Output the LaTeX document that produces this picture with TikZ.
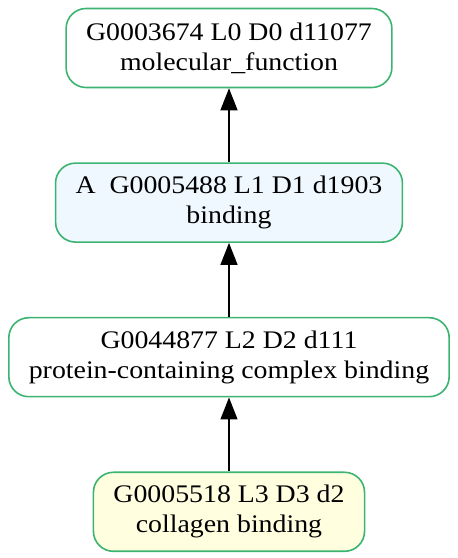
\documentclass[tikz,border=0pt]{standalone}
\usepackage{fontspec}
\setmainfont{Liberation Serif}[FakeStretch=1.1]
\usetikzlibrary{arrows.meta,positioning}
\definecolor{goborder}{HTML}{3CB371}
\definecolor{gublue}{HTML}{F0F8FF}
\definecolor{guyellow}{HTML}{FFFFE0}

\begin{document}
\begin{tikzpicture}[>={Triangle[length=22pt,width=17pt]},line width=1.4pt,node distance=74pt,
    go node/.style={rectangle,rounded corners=20pt,draw=goborder,line width=1.6pt,align=center,
      minimum height=79pt,inner xsep=20pt,font=\fontsize{25.3}{30}\selectfont}]
    \useasboundingbox (0,0) rectangle (458pt,558pt);
    \node[go node] (1) at (229pt,510pt) {G0003674 L0 D0 d11077\\molecular\_function};
    \node[go node,fill=gublue] (2) [below=of 1] {A~ G0005488 L1 D1 d1903\\binding};
    \node[go node] (3) [below=of 2] {G0044877 L2 D2 d111\\protein-containing complex binding};
    \node[go node,fill=guyellow] (4) [below=of 3] {G0005518 L3 D3 d2\\collagen binding};
    \path[draw,->]
    (2) edge (1)
    (3) edge (2)
    (4) edge (3);
\end{tikzpicture}
\end{document}
